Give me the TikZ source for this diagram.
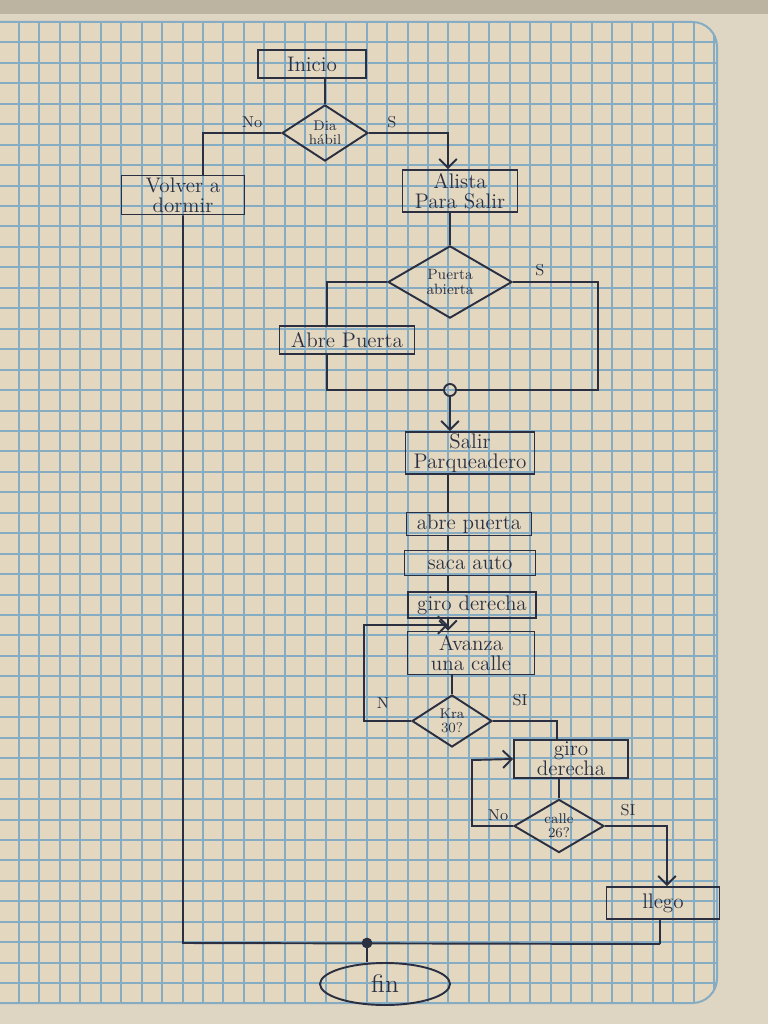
\documentclass[tikz,border=0pt]{standalone}
\usepackage{tikz}
\usetikzlibrary{positioning,arrows.meta,shapes,calc}

\definecolor{papel}{HTML}{E3D8BF}
\definecolor{borde}{HTML}{DED6C3}
\definecolor{franja}{HTML}{BCB4A1}
\definecolor{cuadro}{HTML}{86ACC4}
\definecolor{tinta}{HTML}{2B2F42}

\tikzset{
  caja/.style={draw=tinta, line width=1.1pt, rectangle, inner sep=0.5pt, align=center, font=\fontsize{12}{11.5}\selectfont, text=tinta},
  decision/.style={draw=tinta, line width=1.1pt, diamond, inner sep=0pt, align=center, font=\fontsize{8}{8}\selectfont, text=tinta},
  linea/.style={draw=tinta, line width=1.1pt},
  flecha/.style={draw=tinta, line width=1.1pt, -{Straight Barb[length=5pt]}},
  etiqueta/.style={font=\small, text=tinta}
}

\begin{document}
\begin{tikzpicture}[x=0.02cm, y=-0.02cm]
        \useasboundingbox (0,0) rectangle (768,1024);

        % Hoja cuadriculada
        \fill[borde] (0,0) rectangle (768,1024);
        \fill[franja] (0,0) rectangle (768,14);
        \begin{scope}
            \clip[rounded corners=14] (-30,22) rectangle (717,1003);
            \fill[papel] (-30,22) rectangle (717,1003);
            \foreach \i in {-1,...,34}
                \draw[cuadro, line width=0.04cm] ({round(19+20.45*\i)},22) -- ({round(19+20.45*\i)},1003);
            \foreach \j in {0,...,48}
                \draw[cuadro, line width=0.04cm] (-30,{round(22+20.45*\j)}) -- (717,{round(22+20.45*\j)});
        \end{scope}
        \draw[cuadro, line width=0.04cm, rounded corners=14] (-30,22) rectangle (717,1003);

        % Nodos
        \node[caja, minimum width=2.16cm, minimum height=0.56cm] (inicio) at (312,64) {Inicio};
        \node[decision, minimum width=1.72cm, minimum height=1.0cm] (dia) at (325,133) {Dia\\hábil};
        \node[caja, minimum width=2.46cm, minimum height=0.78cm] (volver) at (183,195) {Volver a\\dormir};
        \node[caja, minimum width=2.3cm, minimum height=0.84cm] (alista) at (460,191) {Alista\\Para Salir};
        \node[decision, minimum width=2.48cm, minimum height=1.32cm, font=\fontsize{8.5}{8.5}\selectfont] (puerta) at (450,282) {Puerta\\abierta};
        \node[caja, minimum width=2.7cm, minimum height=0.56cm] (abrep) at (347,340) {Abre Puerta};
        \node[circle, draw=tinta, line width=1.1pt, inner sep=0pt, minimum size=0.24cm] (union) at (450,390) {};
        \node[caja, minimum width=2.58cm, minimum height=0.84cm] (salir) at (470,453) {Salir\\Parqueadero};
        \node[caja, minimum width=2.5cm, minimum height=0.46cm] (abre) at (469,524) {abre puerta};
        \node[caja, minimum width=2.62cm, minimum height=0.5cm] (saca) at (470,563) {saca auto};
        \node[caja, minimum width=2.56cm, minimum height=0.52cm] (giro) at (472,605) {giro derecha};
        \node[caja, minimum width=2.54cm, minimum height=0.86cm] (avanza) at (471,653) {Avanza\\una calle};
        \node[decision, minimum width=1.6cm, minimum height=1.04cm] (kra) at (452,721) {Kra\\30?};
        \node[caja, minimum width=2.28cm, minimum height=0.76cm] (giro2) at (571,759) {giro\\derecha};
        \node[decision, minimum width=1.8cm, minimum height=0.94cm] (calle) at (559,826) {calle\\26?};
        \node[caja, minimum width=2.26cm, minimum height=0.64cm] (llego) at (663,903) {llego};
        \node[ellipse, draw=tinta, line width=1.1pt, minimum width=2.6cm, minimum height=0.84cm, text=tinta, font=\Large] (fin) at (385,984) {fin};

        % Etiquetas
        \node[etiqueta] (no1) at (252,122) {No};
        \node[etiqueta] (si1) at (392,122) {S};
        \node[etiqueta] (si2) at (540,270) {S};
        \node[etiqueta] (no2) at (383,703) {N};
        \node[etiqueta] (si3) at (520,700) {SI};
        \node[etiqueta] (no3) at (498,815) {No};
        \node[etiqueta] (si4) at (628,810) {SI};

        % Puntos de paso
        \coordinate (eje) at (448,0);
        \coordinate (esq1) at (598,390);
        \coordinate (bucle1) at (364,625);
        \coordinate (bucle2) at (472,760);
        \coordinate (esq2) at (183,943);
        \coordinate (esq3) at (660,944);

        % Conectores
        \draw[linea] (dia.north |- inicio.south) -- (dia.north);
        \draw[linea] (dia.west) -| ([xshift=0.4cm]volver.north);
        \draw[flecha] (dia.east) -| ([xshift=-0.24cm]alista.north);
        \draw[linea] (puerta.north |- alista.south) -- (puerta.north);
        \draw[linea] (puerta.east) -| (esq1) -- (union.east);
        \draw[linea] (puerta.west) -| ([xshift=-0.4cm]abrep.north);
        \draw[linea] ([xshift=-0.4cm]abrep.south) |- (union.west);
        \draw[flecha] (union.south) -- (union.south |- salir.north);
        \draw[linea] (salir.south -| eje) -- (abre.north -| eje);
        \draw[linea] (abre.south -| eje) -- (saca.north -| eje);
        \draw[linea] (saca.south -| eje) -- (giro.north -| eje);
        \draw[flecha] (giro.south -| eje) -- (avanza.north -| eje);
        \draw[linea] (avanza.south -| kra.north) -- (kra.north);
        \draw[flecha] (kra.west) -| (bucle1) -- (bucle1 -| eje);
        \draw[linea] (kra.east) -| ([xshift=-0.28cm]giro2.north);
        \draw[linea] (giro2.south -| calle.north) -- (calle.north);
        \draw[flecha] (calle.west) -| (bucle2) -- (giro2.west);
        \draw[flecha] (calle.east) -| ([xshift=0.08cm]llego.north);
        \draw[linea] (llego.south -| esq3) -- (esq3);
        \draw[linea] (volver.south) -- (esq2) -- (esq3);
        \node[circle, draw=tinta, fill=tinta, inner sep=0pt, minimum size=0.2cm] (punto) at (367,943) {};
        \draw[linea] (punto.south) -- (punto.south |- fin.north);
    \end{tikzpicture}
\end{document}
